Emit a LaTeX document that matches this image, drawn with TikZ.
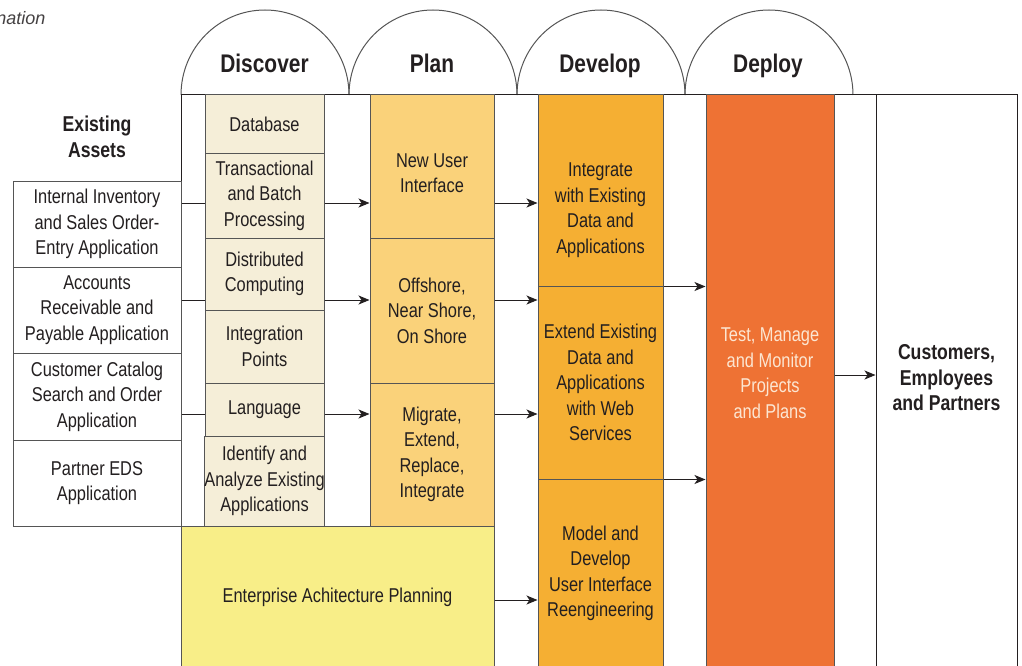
\documentclass[tikz,border=0pt]{standalone}
\usepackage{fontspec}
\setmainfont{Liberation Sans}[FakeStretch=0.82]
\newfontfamily\notefont{Liberation Sans}
\usetikzlibrary{arrows.meta, calc}
\definecolor{ink}{HTML}{231F20}
\definecolor{rule}{HTML}{555555}
\definecolor{discfill}{HTML}{F5EED8}
\definecolor{planfill}{HTML}{FAD27A}
\definecolor{devfill}{HTML}{F5AF33}
\definecolor{deplfill}{HTML}{EE7234}
\definecolor{eapfill}{HTML}{F8EE88}
\definecolor{deptext}{HTML}{FCE6D2}

\begin{document}
\begin{tikzpicture}[x=1pt, y=-1pt, line width=1pt,
        cell/.style={rectangle, draw=rule, inner sep=0pt, align=center, text=ink,
                font=\fontsize{20}{25.5}\selectfont},
        txt/.style={align=center, text=ink, font=\fontsize{20}{25.5}\selectfont},
        asset/.style={cell, fill=white, minimum width=168pt},
        disc/.style={cell, fill=discfill, minimum width=119pt},
        plan/.style={cell, fill=planfill, minimum width=124pt},
        dev/.style={cell, fill=devfill, minimum width=125pt},
        phase/.style={anchor=base, text=ink, font=\fontsize{25.5}{30}\selectfont\bfseries},
        heading/.style={align=center, text=ink, font=\fontsize{21.5}{25.5}\selectfont\bfseries},
        link/.style={draw=ink},
        flow/.style={draw=ink, -{Stealth[length=11pt, width=9pt, inset=3pt]}}]
    \useasboundingbox (0,0) rectangle (1022,666);
    \clip (0,0) rectangle (1022,666);

    % row levels of the connectors
    \coordinate (r1) at (0,203);
    \coordinate (r2) at (0,300);
    \coordinate (r3) at (0,414);
    \coordinate (r4) at (0,600);
    \coordinate (r5) at (0,375);

    \node[anchor=base east, inner sep=0pt, text=ink!85, font=\notefont\itshape\fontsize{18}{20}\selectfont] (note) at (46,25) {nation};

    % phase arches
    \draw[rule] (181,95) arc[start angle=180, end angle=0, x radius=84pt, y radius=85pt];
    \draw[rule] (349,95) arc[start angle=180, end angle=0, x radius=84pt, y radius=85pt];
    \draw[rule] (517,95) arc[start angle=180, end angle=0, x radius=84pt, y radius=85pt];
    \draw[rule] (685,95) arc[start angle=180, end angle=0, x radius=84pt, y radius=85pt];
    \node[phase] (discover) at (264.5,73) {Discover};
    \node[phase] (plan) at (432,73) {Plan};
    \node[phase] (develop) at (600,73) {Develop};
    \node[phase] (deploy) at (768,73) {Deploy};

    % frame
    \draw[ink] (181,668) -- (181,95) -- (876,95);
    \node[rectangle, draw=ink, fill=white, inner sep=0pt, minimum width=141pt, minimum height=573pt] (cust) at (946.5,381.5) {};
    \node[heading] (custtext) at (946.5,378) {Customers,\\Employees\\and Partners};

    % existing assets
    \node[heading] (assets) at (97,137) {Existing\\Assets};
    \node[asset, minimum height=86pt] (inv) at (97,224) {Internal Inventory\\and Sales Order-\\Entry Application};
    \node[asset, minimum height=86pt] (acct) at (97,310) {Accounts\\Receivable and\\Payable Application};
    \node[asset, minimum height=87pt] (cat) at (97,396.5) {Customer Catalog\\Search and Order\\Application};
    \node[asset, minimum height=86pt] (eds) at (97,483) {Partner EDS\\Application};

    % discover
    \node[disc, minimum height=58pt] (db) at (264.5,124) {Database};
    \node[disc, minimum height=85pt] (trans) at (264.5,195.5) {Transactional\\and Batch\\Processing};
    \node[disc, minimum height=72pt] (dist) at (264.5,274) {Distributed\\Computing};
    \node[disc, minimum height=73pt] (intp) at (264.5,346.5) {Integration\\Points};
    \node[disc, minimum height=53pt] (lang) at (264.5,409.5) {Language};
    \node[disc, minimum height=90pt] (ident) at (264.5,481) {Identify and\\Analyze Existing\\Applications};

    % plan
    \node[plan, minimum height=143pt] (newui) at (432,166.5) {};
    \node[txt] (newui-t) at (432,173) {New User\\Interface};
    \node[plan, minimum height=145pt] (shore) at (432,310.5) {Offshore,\\Near Shore,\\On Shore};
    \node[plan, minimum height=143pt] (migr) at (432,454.5) {Migrate,\\Extend,\\Replace,\\Integrate};
    \node[cell, fill=eapfill, minimum width=313pt, minimum height=142pt] (eap) at (337.5,597) {Enterprise Achitecture Planning};

    % develop
    \node[dev, minimum height=191pt] (integ) at (600.5,190.5) {};
    \node[txt] (integ-t) at (600.5,210) {Integrate\\with Existing\\Data and\\Applications};
    \node[dev, minimum height=193pt] (extend) at (600.5,382.5) {Extend Existing\\Data and\\Applications\\with Web\\Services};
    \node[dev, minimum height=189pt] (model) at (600.5,573.5) {Model and\\Develop\\User Interface\\Reengineering};

    % deploy
    \node[cell, fill=deplfill, minimum width=128pt, minimum height=573pt] (test) at (770,381.5) {};
    \node[txt, text=deptext] (test-t) at (770,373) {Test, Manage\\and Monitor\\Projects\\and Plans};

    % connectors
    \draw[link] (inv.east |- r1) -- (trans.west |- r1);
    \draw[link] (acct.east |- r2) -- (dist.west |- r2);
    \draw[link] (cat.east |- r3) -- (lang.west |- r3);
    \draw[flow] (trans.east |- r1) -- (newui.west |- r1);
    \draw[flow] (dist.east |- r2) -- (shore.west |- r2);
    \draw[flow] (lang.east |- r3) -- (migr.west |- r3);
    \draw[flow] (newui.east |- r1) -- (integ.west |- r1);
    \draw[flow] (shore.east |- r2) -- (extend.west |- r2);
    \draw[flow] (migr.east |- r3) -- (extend.west |- r3);
    \draw[flow] (eap.east |- r4) -- (model.west |- r4);
    \draw[flow] (integ.south east) -- (test.west |- integ.south east);
    \draw[flow] (extend.south east) -- (test.west |- extend.south east);
    \draw[flow] (test.east |- r5) -- (cust.west |- r5);
\end{tikzpicture}
\end{document}
